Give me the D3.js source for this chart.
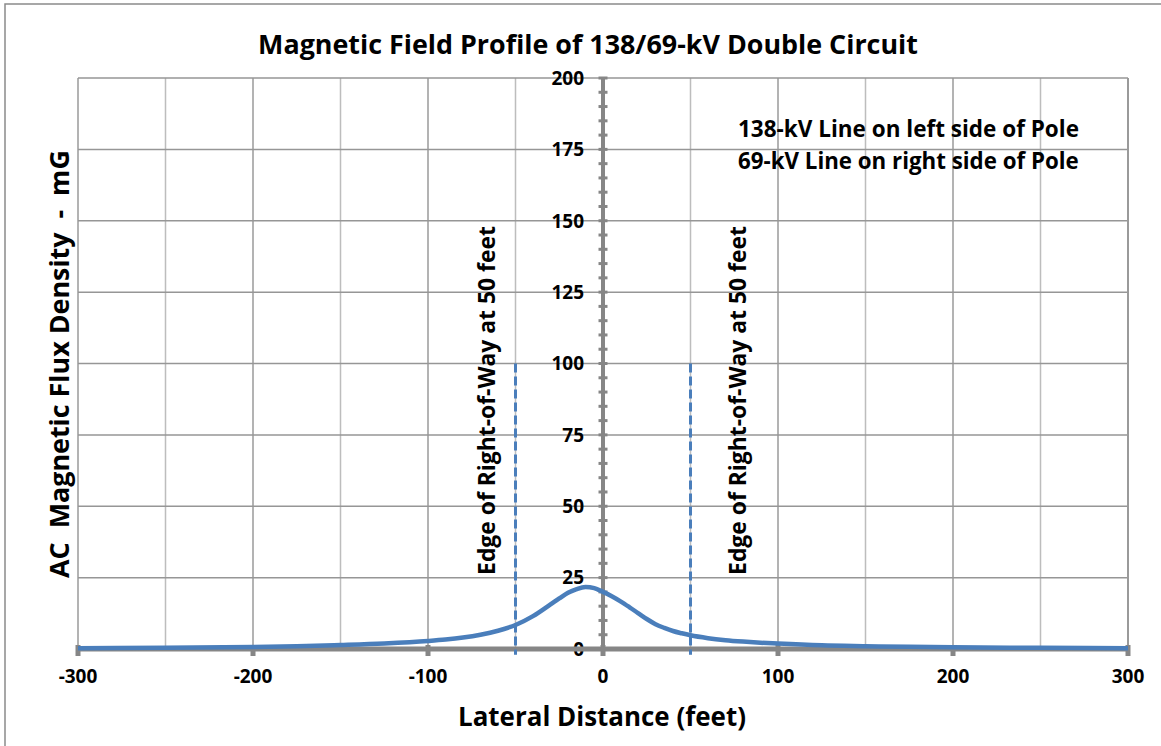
<!DOCTYPE html>
<html>
<head>
<meta charset="utf-8">
<script src="https://cdn.jsdelivr.net/npm/d3@7"></script>
<style>
  html, body { margin: 0; padding: 0; background: #fff; }
  svg text { font-family: "Open Sans", Lato, sans-serif; font-weight: bold; fill: #000; }
</style>
</head>
<body>
<svg id="chart" width="1161" height="746"></svg>
<script>
// Lateral distance from pole centerline (feet) and calculated field (mG)
const distance = [-300, -250, -200, -175, -150, -125, -100, -90, -80, -70, -60, -50, -40, -30, -25, -20, -15, -10, -5, 0, 5, 10, 15, 20, 25, 30, 35, 40, 45, 50, 60, 70, 80, 90, 100, 125, 150, 175, 200, 250, 300];
const fieldMG  = [0.3, 0.45, 0.7, 0.95, 1.4, 1.95, 2.8, 3.3, 4.0, 5.0, 6.4, 8.4, 11.5, 15.6, 17.7, 19.7, 21.0, 21.7, 21.3, 20.0, 18.5, 16.7, 14.7, 12.6, 10.5, 8.7, 7.4, 6.3, 5.5, 4.8, 3.8, 3.1, 2.6, 2.2, 1.9, 1.3, 1.0, 0.75, 0.6, 0.4, 0.3];

const xTicks = [-300, -200, -100, 0, 100, 200, 300];
const xGrid = [-300, -250, -200, -150, -100, -50, 0, 50, 100, 150, 200, 250, 300];
const yTicks = [0, 25, 50, 75, 100, 125, 150, 175, 200];
const yMinorTicks = d3.range(0, 201, 5);

const rowEdges = [-50, 50];
const rowMarkerTop = 100;
const rowLabel = "Edge of Right-of-Way at 50 feet";

const titleText = "Magnetic Field Profile of 138/69-kV Double Circuit";
const xTitle = "Lateral Distance (feet)";
const yTitle = "AC  Magnetic Flux Density  -  mG";
const notes = ["138-kV Line on left side of Pole", "69-kV Line on right side of Pole"];

const svg = d3.select("#chart");
const plot = { left: 78, right: 1128, top: 78, bottom: 649 };

const x = d3.scaleLinear().domain([-300, 300]).range([plot.left, plot.right]);
const y = d3.scaleLinear().domain([0, 200]).range([plot.bottom, plot.top]);

const blue = "#4a7ebb";
const axisGray = "#868686";

// scale a label's font size so the text runs to the given length
function fitWidth(sel, width) {
  sel.each(function () {
    const fs = parseFloat(this.style.fontSize);
    const w = this.getComputedTextLength();
    if (w > 0) this.style.fontSize = (fs * width / w) + "px";
  });
  return sel;
}

// chart frame
svg.append("rect")
  .attr("x", 5).attr("y", 4).attr("width", 1170).attr("height", 760)
  .attr("fill", "none").attr("stroke", "#8a8a8a").attr("stroke-width", 1.5);

// vertical gridlines (every 50 ft, lighter at the half steps)
svg.append("g").selectAll("line").data(xGrid).join("line")
  .attr("x1", d => x(d)).attr("x2", d => x(d))
  .attr("y1", plot.top).attr("y2", plot.bottom)
  .attr("stroke", d => d % 100 === 0 ? "#9a9a9a" : "#bdbdbd")
  .attr("stroke-width", 1.5);

// horizontal gridlines
svg.append("g").selectAll("line").data(yTicks).join("line")
  .attr("x1", plot.left).attr("x2", plot.right)
  .attr("y1", d => y(d)).attr("y2", d => y(d))
  .attr("stroke", "#969696").attr("stroke-width", 1.5);

// right-hand plot edge
svg.append("line")
  .attr("x1", plot.right).attr("x2", plot.right)
  .attr("y1", plot.top).attr("y2", plot.bottom)
  .attr("stroke", "#9a9a9a").attr("stroke-width", 2);

// y axis through the pole (x = 0)
const yAxisG = svg.append("g");
yAxisG.append("line")
  .attr("x1", x(0)).attr("x2", x(0))
  .attr("y1", y(200)).attr("y2", y(0))
  .attr("stroke", axisGray).attr("stroke-width", 4);
yAxisG.selectAll("line.tick").data(yMinorTicks).join("line")
  .attr("class", "tick")
  .attr("x1", x(0) - 4.5).attr("x2", x(0) + 4.5)
  .attr("y1", d => y(d)).attr("y2", d => y(d))
  .attr("stroke", axisGray).attr("stroke-width", 3);
yAxisG.selectAll("text").data(yTicks).join("text")
  .attr("x", x(0) - 19).attr("y", d => y(d))
  .attr("dy", "0.36em")
  .attr("text-anchor", "end")
  .style("font-size", "19px")
  .text(d => d);

// x axis
const xAxisG = svg.append("g");
xAxisG.append("line")
  .attr("x1", plot.left).attr("x2", plot.right)
  .attr("y1", y(0)).attr("y2", y(0))
  .attr("stroke", axisGray).attr("stroke-width", 5);
xAxisG.selectAll("line.tick").data(xTicks).join("line")
  .attr("class", "tick")
  .attr("x1", d => x(d)).attr("x2", d => x(d))
  .attr("y1", y(0) - 4).attr("y2", y(0) + 7)
  .attr("stroke", axisGray).attr("stroke-width", 5);
xAxisG.selectAll("text").data(xTicks).join("text")
  .attr("x", d => x(d)).attr("y", 683)
  .attr("text-anchor", "middle")
  .style("font-size", "19px")
  .text(d => d);

// right-of-way markers
svg.append("g").selectAll("line").data(rowEdges).join("line")
  .attr("x1", d => x(d)).attr("x2", d => x(d))
  .attr("y1", y(rowMarkerTop)).attr("y2", y(-2))
  .attr("stroke", blue).attr("stroke-width", 3)
  .attr("stroke-dasharray", "9,4");

svg.append("g").selectAll("text").data(rowEdges).join("text")
  .attr("transform", d => `translate(${x(d) + (d < 0 ? -20.5 : 55.5)},400.5) rotate(-90)`)
  .attr("text-anchor", "middle")
  .style("font-size", "20px")
  .text(rowLabel)
  .call(fitWidth, 349);

// field profile
const line = d3.line()
  .x((d, i) => x(distance[i]))
  .y(d => y(d))
  .curve(d3.curveMonotoneX);
svg.append("path")
  .datum(fieldMG)
  .attr("d", line)
  .attr("fill", "none")
  .attr("stroke", blue)
  .attr("stroke-width", 4.5)
  .attr("stroke-linejoin", "round");

// notes
svg.append("g").selectAll("text").data(notes).join("text")
  .attr("x", 738).attr("y", (d, i) => 137 + i * 32)
  .style("font-size", "20px")
  .text(d => d)
  .call(fitWidth, 341);

// titles
svg.append("text")
  .attr("x", 588).attr("y", 54)
  .attr("text-anchor", "middle")
  .style("font-size", "24px")
  .text(titleText)
  .call(fitWidth, 660);

svg.append("text")
  .attr("x", 602).attr("y", 726)
  .attr("text-anchor", "middle")
  .style("font-size", "24px")
  .text(xTitle)
  .call(fitWidth, 288);

svg.append("text")
  .attr("transform", "translate(69,364) rotate(-90)")
  .attr("text-anchor", "middle")
  .style("font-size", "24px")
  .style("white-space", "pre")
  .text(yTitle)
  .call(fitWidth, 428);
</script>
</body>
</html>
